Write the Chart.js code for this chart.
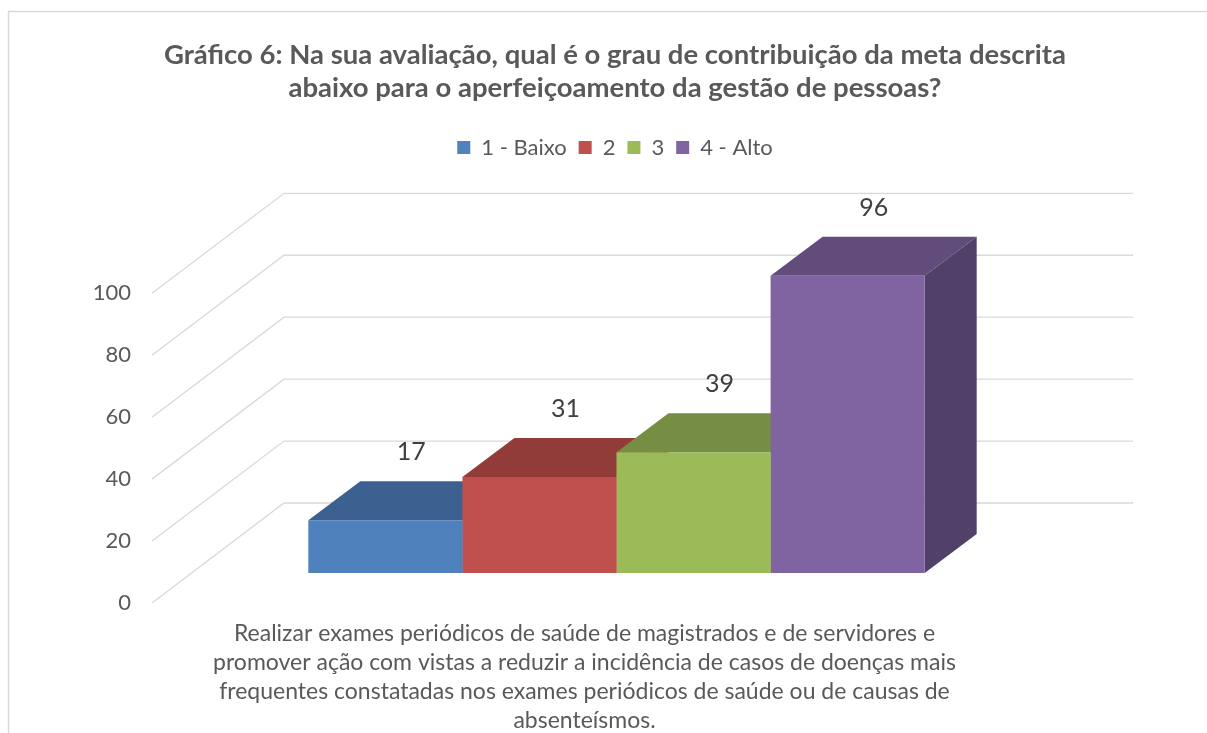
<!DOCTYPE html>
<html lang="pt-BR">
<head>
<meta charset="utf-8">
<title>Gráfico 6</title>
<script src="https://cdn.jsdelivr.net/npm/chart.js@4.4.1/dist/chart.umd.min.js"></script>
<style>
  html, body { margin: 0; padding: 0; background: #fff; }
  #wrap { width: 1207px; height: 733px; }
</style>
</head>
<body>
<div id="wrap"><canvas id="grafico6"></canvas></div>
<script>
// --- dados ---
const categorias = [[
    'Realizar exames periódicos de saúde de magistrados e de servidores e',
    'promover ação com vistas a reduzir a incidência de casos de doenças mais',
    'frequentes constatadas nos exames periódicos de saúde ou de causas de',
    'absenteísmos.'
]];
const series = ['1 - Baixo', '2', '3', '4 - Alto'];
const valores = [17, 31, 39, 96];
const ticksY = [0, 20, 40, 60, 80, 100];

// --- estilo ---
const corFrente = ['#4f81bd', '#c0504d', '#9bbb59', '#8064a2'];
const corTopo = ['#3c6191', '#923c3a', '#768e43', '#614c7b'];
const corLado = ['#334f77', '#7a3230', '#5f7337', '#514068'];
const fonte = 'Lato, Carlito, Calibri, sans-serif';
const cinza = '#595959';

// deslocamentos da perspectiva (plano frontal -> barras -> parede de fundo)
const desloc = {
    barra: { x: 40, y: -30 },
    prof: { x: 52, y: -39 },
    parede: { x: 132, y: -100 }
};

const efeito3d = {
    id: 'efeito3d',
    beforeDraw(chart) {
        const { ctx, width, height, chartArea, scales: { y } } = chart;
        ctx.save();
        ctx.fillStyle = '#fff';
        ctx.fillRect(0, 0, width, height);
        // moldura
        ctx.strokeStyle = '#d9d9d9';
        ctx.lineWidth = 1.5;
        ctx.beginPath();
        ctx.moveTo(8.5, height);
        ctx.lineTo(8.5, 11.5);
        ctx.lineTo(width, 11.5);
        ctx.stroke();
        // grade: linha no chao/lado esquerdo + parede de fundo
        ctx.lineWidth = 1.3;
        ticksY.forEach(v => {
            const py = y.getPixelForValue(v);
            ctx.beginPath();
            ctx.moveTo(chartArea.left, py);
            ctx.lineTo(chartArea.left + desloc.parede.x, py + desloc.parede.y);
            ctx.lineTo(chartArea.right + desloc.parede.x, py + desloc.parede.y);
            ctx.stroke();
        });
        ctx.restore();
    },
    beforeDatasetsDraw(chart) {
        const { ctx } = chart;
        ctx.save();
        ctx.translate(desloc.barra.x, desloc.barra.y);
        const dx = desloc.prof.x, dy = desloc.prof.y;
        chart.data.datasets.forEach((ds, i) => {
            chart.getDatasetMeta(i).data.forEach(bar => {
                const { x, y, base, width } = bar.getProps(['x', 'y', 'base', 'width'], true);
                const l = x - width / 2, r = x + width / 2;
                // topo
                ctx.fillStyle = corTopo[i];
                ctx.beginPath();
                ctx.moveTo(l, y);
                ctx.lineTo(r, y);
                ctx.lineTo(r + dx, y + dy);
                ctx.lineTo(l + dx, y + dy);
                ctx.closePath();
                ctx.fill();
                // lateral direita
                ctx.fillStyle = corLado[i];
                ctx.beginPath();
                ctx.moveTo(r, y);
                ctx.lineTo(r, base);
                ctx.lineTo(r + dx, base + dy);
                ctx.lineTo(r + dx, y + dy);
                ctx.closePath();
                ctx.fill();
            });
        });
        // a frente das barras e desenhada pelo Chart.js com o mesmo deslocamento
    },
    afterDatasetsDraw(chart) {
        const { ctx } = chart;
        // rotulos de dados sobre o topo de cada barra
        ctx.font = '25px ' + fonte;
        ctx.fillStyle = '#404040';
        ctx.textAlign = 'center';
        ctx.textBaseline = 'middle';
        chart.data.datasets.forEach((ds, i) => {
            chart.getDatasetMeta(i).data.forEach((bar, j) => {
                const { x, y } = bar.getProps(['x', 'y'], true);
                ctx.fillText(ds.data[j], x + desloc.prof.x / 2, y + desloc.prof.y - 29);
            });
        });
        ctx.restore();
    }
};

const ctx = document.getElementById('grafico6').getContext('2d');

new Chart(ctx, {
    type: 'bar',
    data: {
        labels: categorias,
        datasets: series.map((nome, i) => ({
            label: nome,
            data: [valores[i]],
            backgroundColor: corFrente[i],
            borderWidth: 0,
            barPercentage: 1,
            categoryPercentage: 0.726,
            clip: false
        }))
    },
    options: {
        responsive: true,
        maintainAspectRatio: false,
        animation: false,
        layout: { padding: { left: 23, right: 0, top: 0, bottom: 0 } },
        plugins: {
            title: {
                display: true,
                text: [
                    'Gráfico 6: Na sua avaliação, qual é o grau de contribuição da meta descrita',
                    'abaixo para o aperfeiçoamento da gestão de pessoas?'
                ],
                color: cinza,
                font: { family: fonte, size: 27.5, weight: 'bold', lineHeight: 1.2 },
                padding: { top: 38.5, bottom: 20 }
            },
            legend: {
                display: true,
                position: 'top',
                labels: {
                    color: cinza,
                    boxWidth: 13,
                    boxHeight: 13,
                    padding: 12,
                    font: { family: fonte, size: 22 }
                }
            },
            tooltip: { enabled: false }
        },
        scales: {
            x: {
                grid: { display: false, drawTicks: false },
                border: { display: false },
                ticks: {
                    color: cinza,
                    padding: 16,
                    labelOffset: 8,
                    maxRotation: 0,
                    autoSkip: false,
                    font: { family: fonte, size: 23, lineHeight: 1.26 }
                },
                afterFit(scale) { scale.height = 130; }
            },
            y: {
                min: 0,
                max: 140.3,
                grid: { display: false, drawTicks: false },
                border: { display: false },
                afterBuildTicks(scale) { scale.ticks = ticksY.map(v => ({ value: v })); },
                ticks: {
                    color: cinza,
                    padding: 21,
                    font: { family: fonte, size: 22 }
                },
                afterFit(scale) { scale.width = 129; }
            },
            yDir: {
                position: 'right',
                grid: { display: false, drawTicks: false },
                border: { display: false },
                ticks: { display: false },
                afterFit(scale) { scale.width = 206; }
            }
        }
    },
    plugins: [efeito3d]
});
</script>
</body>
</html>
